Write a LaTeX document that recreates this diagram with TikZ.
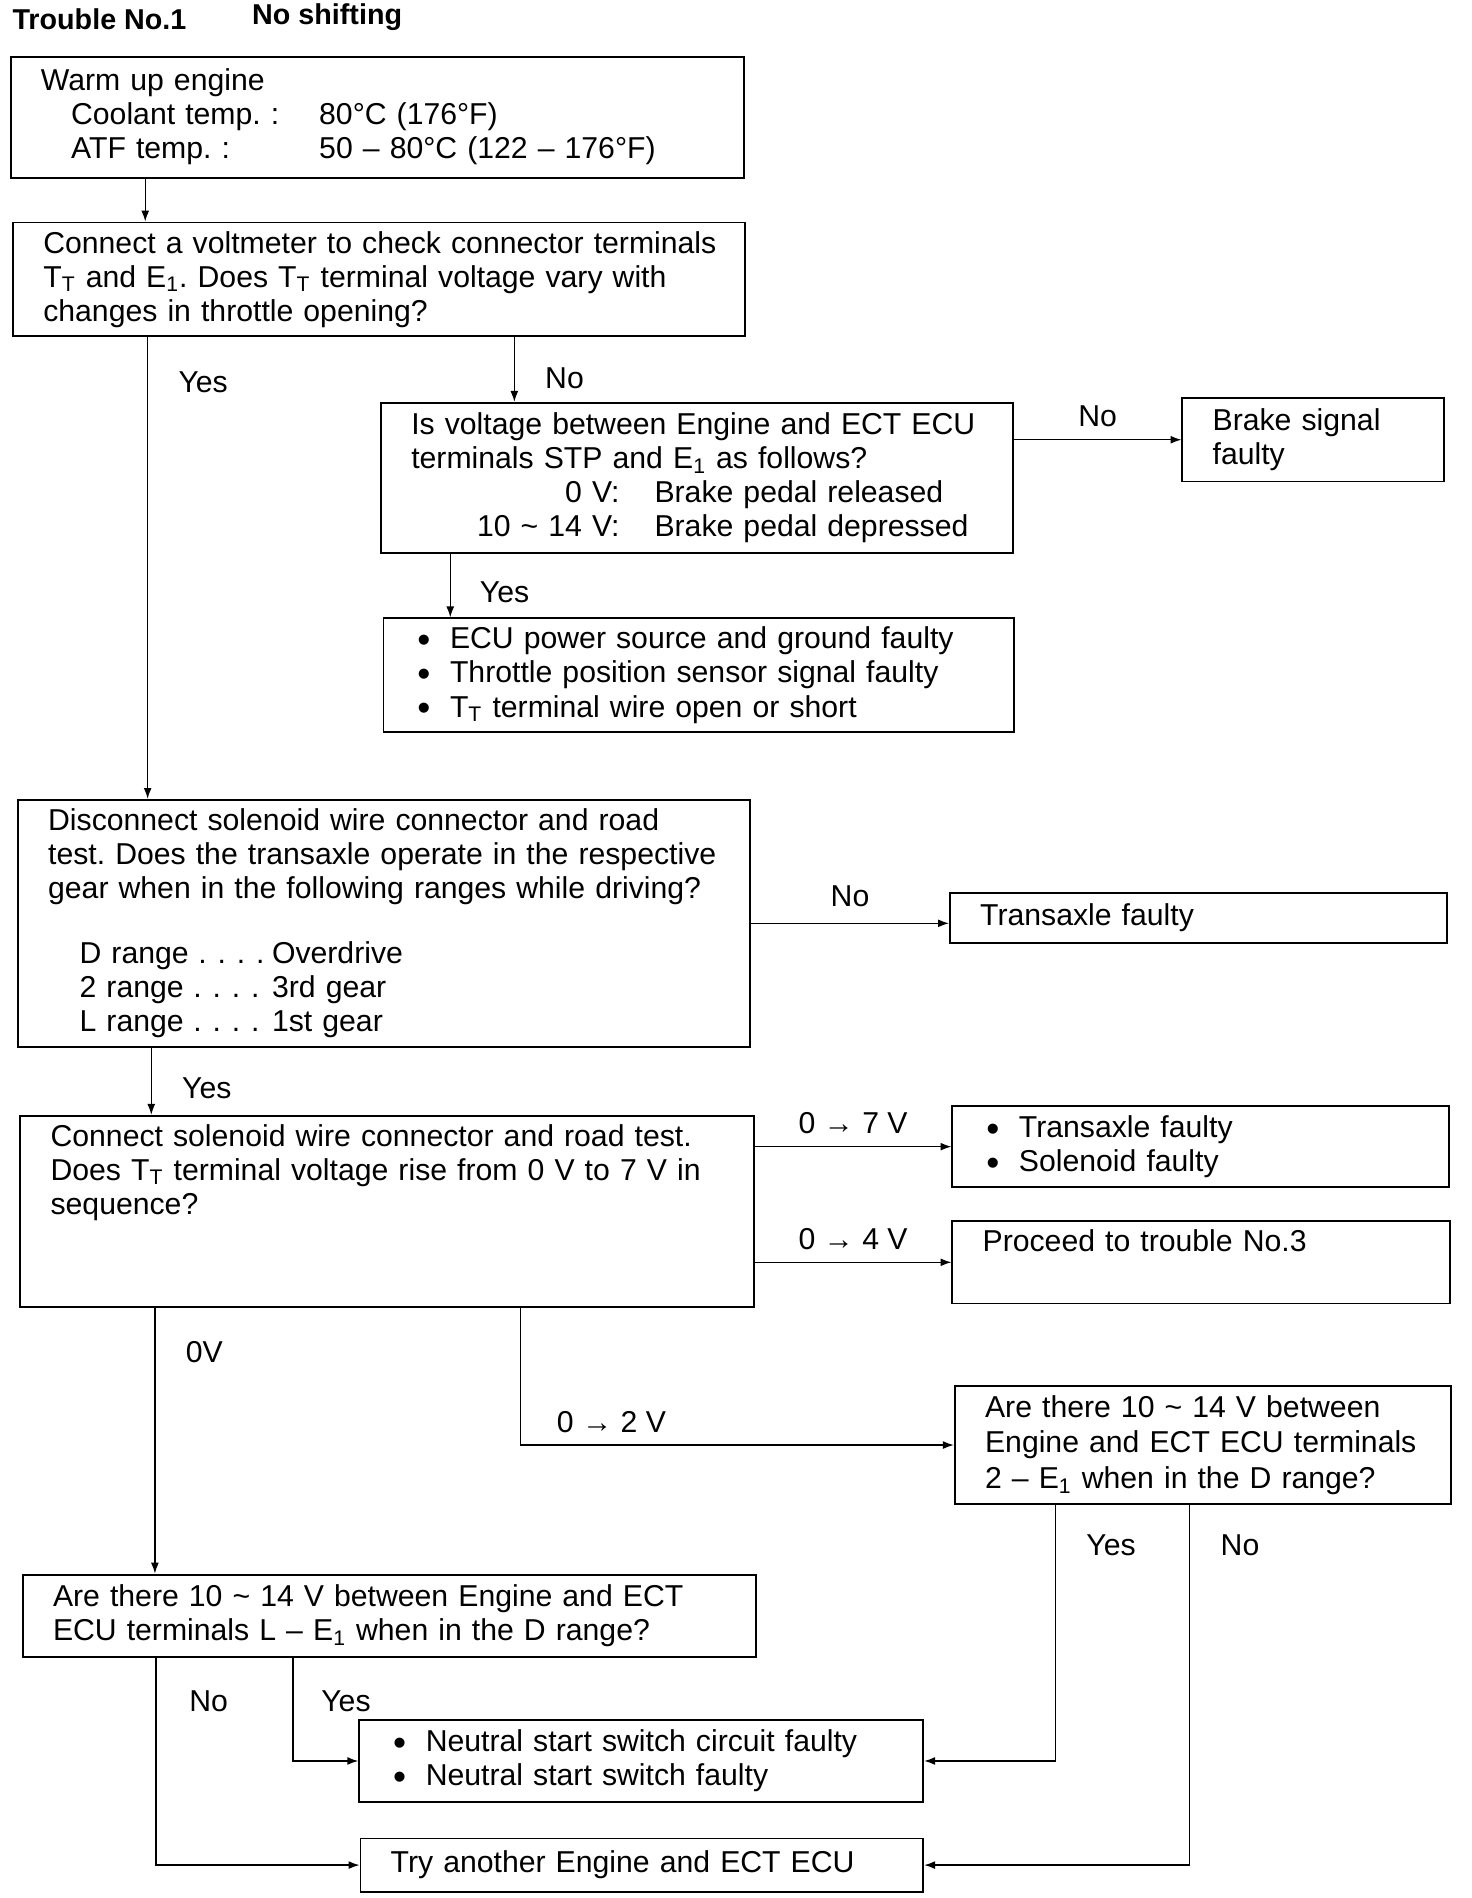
\documentclass[tikz,border=0pt]{standalone}
\usepackage{fontspec}
\setmainfont{Liberation Sans}
\usepackage{tikz}
\usetikzlibrary{positioning, arrows.meta, calc}
\tikzset{
  % --- flowchart boxes (question / remedy) ---
  stepbox/.style={
    draw, rectangle, anchor=north west, align=left,
    font=\fontsize{14.2}{16}\selectfont,
    inner xsep=0.16cm, inner ysep=0.14cm, line width=0.9pt,
    execute at begin node={\leftskip=0.34cm\frenchspacing},
  },
  headtext/.style={anchor=west, inner sep=0pt, font=\bfseries\fontsize{13.5}{16}\selectfont},
  % --- connectors ---
  flow/.style={-{Latex[length=1.8mm, width=1.3mm]}, line width=0.6pt},
  branch/.style={inner sep=0pt, font=\fontsize{14.2}{16}\selectfont},
}
\newcommand{\bitem}[1]{\makebox[0.6cm][l]{\hspace{0.06cm}\raisebox{-1.8pt}{\fontsize{17.5}{15}\selectfont\textbullet}}#1}
\newcommand{\rangedots}{\hspace{0.16cm}.\hspace{0.18cm}.\hspace{0.18cm}.\hspace{0.18cm}.}

\begin{document}
\begin{tikzpicture}[x=0.02cm, y=-0.02cm]
  \useasboundingbox (0,0) rectangle (1216,1568);

  % ---- Heading ----
  \node[headtext] (trouble) at (10,16) {Trouble No.1};
  \node[headtext] (symptom) at (208,14) {No shifting};

  % ---- Main column ----
  \node[stepbox, minimum width=12.12cm, minimum height=2cm, text width=11.8cm] (warm) at (8,46) {
    Warm up engine\\
    \hspace*{0.5cm}\makebox[4.1cm][l]{Coolant temp. :}80°C (176°F)\\
    \hspace*{0.5cm}\makebox[4.1cm][l]{ATF temp. :}50 – 80°C (122 – 176°F)
  };
  \node[stepbox, minimum width=12.1cm, minimum height=1.88cm, text width=11.78cm] (volt) at (10,183) {
    Connect a voltmeter to check connector terminals\\
    T\textsubscript{T} and E\textsubscript{1}. Does T\textsubscript{T} terminal voltage vary with\\
    changes in throttle opening?
  };
  \node[stepbox, minimum width=12.1cm, minimum height=4.08cm, text width=11.78cm] (disc) at (14,660) {
    Disconnect solenoid wire connector and road\\
    test. Does the transaxle operate in the respective\\
    gear when in the following ranges while driving?\\[0.9\baselineskip]
    \hspace*{0.52cm}\makebox[3.18cm][l]{D range\rangedots}Overdrive\\
    \hspace*{0.52cm}\makebox[3.18cm][l]{2 range\rangedots}3rd gear\\
    \hspace*{0.52cm}\makebox[3.18cm][l]{L range\rangedots}1st gear
  };
  \node[stepbox, minimum width=12.12cm, text width=11.8cm, text depth=2.52cm] (sol) at (16,921) {
    Connect solenoid wire connector and road test.\\
    Does T\textsubscript{T} terminal voltage rise from 0 V to 7 V in\\
    sequence?
  };
  \node[stepbox, minimum width=12.12cm, minimum height=1.36cm, text width=11.8cm] (le) at (18,1300) {
    Are there 10 \textasciitilde{} 14 V between Engine and ECT\\
    ECU terminals L – E\textsubscript{1} when in the D range?
  };

  % ---- Brake signal branch ----
  \node[stepbox, minimum width=10.44cm, minimum height=2.48cm, text width=10.12cm] (stp) at (314,332) {
    Is voltage between Engine and ECT ECU\\
    terminals STP and E\textsubscript{1} as follows?\\
    \makebox[3.44cm][r]{0 V:}\hspace{0.58cm}Brake pedal released\\
    \makebox[3.44cm][r]{10 \textasciitilde{} 14 V:}\hspace{0.58cm}Brake pedal depressed
  };
  \node[stepbox, minimum width=4.32cm, minimum height=1.38cm, text width=4cm] (brake) at (976,328) {
    Brake signal\\
    faulty
  };
  \node[stepbox, minimum width=10.42cm, minimum height=1.88cm, text width=10.1cm] (ecu) at (316,510) {
    \bitem{ECU power source and ground faulty}\\
    \bitem{Throttle position sensor signal faulty}\\
    \bitem{T\textsubscript{T} terminal wire open or short}
  };

  % ---- Right-hand results ----
  \node[stepbox, minimum width=8.22cm, minimum height=0.82cm, text width=7.9cm] (trans) at (784,737) {Transaxle faulty};
  \node[stepbox, minimum width=8.2cm, minimum height=1.34cm, text width=7.88cm] (v7) at (786,913) {
    \bitem{Transaxle faulty}\\
    \bitem{Solenoid faulty}
  };
  \node[stepbox, minimum width=8.22cm, text width=7.9cm, text depth=0.72cm] (v4) at (786,1008) {Proceed to trouble No.3};
  \node[stepbox, minimum width=8.2cm, minimum height=1.96cm, text width=7.88cm,
    font=\fontsize{14.2}{16.8}\selectfont] (twoE) at (788,1144) {
    Are there 10 \textasciitilde{} 14 V between\\
    Engine and ECT ECU terminals\\
    2 – E\textsubscript{1} when in the D range?
  };

  % ---- Final remedies ----
  \node[stepbox, minimum width=9.32cm, minimum height=1.36cm, text width=9cm] (neutral) at (296,1420) {
    \bitem{Neutral start switch circuit faulty}\\
    \bitem{Neutral start switch faulty}
  };
  \node[stepbox, minimum width=9.3cm, minimum height=0.88cm, text width=8.98cm] (try) at (297,1518) {Try another Engine and ECT ECU};

  % ---- Connectors ----
  \coordinate (warm-out) at ([xshift=2.24cm]warm.south west);
  \draw[flow] (warm-out) -- (warm-out |- volt.north);

  \coordinate (volt-yes) at ([xshift=2.24cm]volt.south west);
  \draw[flow] (volt-yes) -- (volt-yes |- disc.north) node[branch, pos=0.097, right=0.5cm]{Yes};
  \coordinate (volt-no) at ([xshift=8.3cm]volt.south west);
  \draw[flow] (volt-no) -- (volt-no |- stp.north) node[branch, pos=0.64, right=0.5cm]{No};

  \draw[flow] (stp.east |- brake.west) -- (brake.west) node[branch, midway, above=0.2cm]{No};
  \coordinate (stp-yes) at ([xshift=1.16cm]stp.south west);
  \draw[flow] (stp-yes) -- (stp-yes |- ecu.north) node[branch, pos=0.61, right=0.48cm]{Yes};

  \draw[flow] (disc.east) -- (disc.east -| trans.west) node[branch, midway, above=0.26cm]{No};
  \coordinate (disc-yes) at ([xshift=2.22cm]disc.south west);
  \draw[flow] (disc-yes) -- (disc-yes |- sol.north) node[branch, pos=0.61, right=0.5cm]{Yes};

  \draw[flow] (sol.east |- v7.west) -- (v7.west) node[branch, midway, above=0.2cm]{0 → 7 V};
  \draw[flow] (sol.east |- v4.west) -- (v4.west) node[branch, midway, above=0.2cm]{0 → 4 V};
  \coordinate (sol-zero) at ([xshift=2.24cm]sol.south west);
  \draw[flow] (sol-zero) -- (sol-zero |- le.north) node[branch, pos=0.165, right=0.5cm]{0V};
  \coordinate (sol-two) at ([xshift=8.28cm]sol.south west);
  \draw[flow] (sol-two) |- (twoE.west) node[branch, pos=0.605, above=0.2cm]{0 → 2 V};

  \coordinate (le-no) at ([xshift=2.22cm]le.south west);
  \draw[flow] (le-no) |- (try.west) node[branch, pos=0.105, right=0.54cm]{No};
  \coordinate (le-yes) at ([xshift=4.48cm]le.south west);
  \draw[flow] (le-yes) |- (neutral.west) node[branch, pos=0.21, right=0.46cm]{Yes};

  \coordinate (two-yes) at ([xshift=1.68cm]twoE.south west);
  \draw[flow] (two-yes) |- (neutral.east) node[branch, pos=0.078, right=0.5cm]{Yes};
  \coordinate (two-no) at ([xshift=3.9cm]twoE.south west);
  \draw[flow] (two-no) |- (try.east) node[branch, pos=0.055, right=0.5cm]{No};
\end{tikzpicture}
\end{document}
